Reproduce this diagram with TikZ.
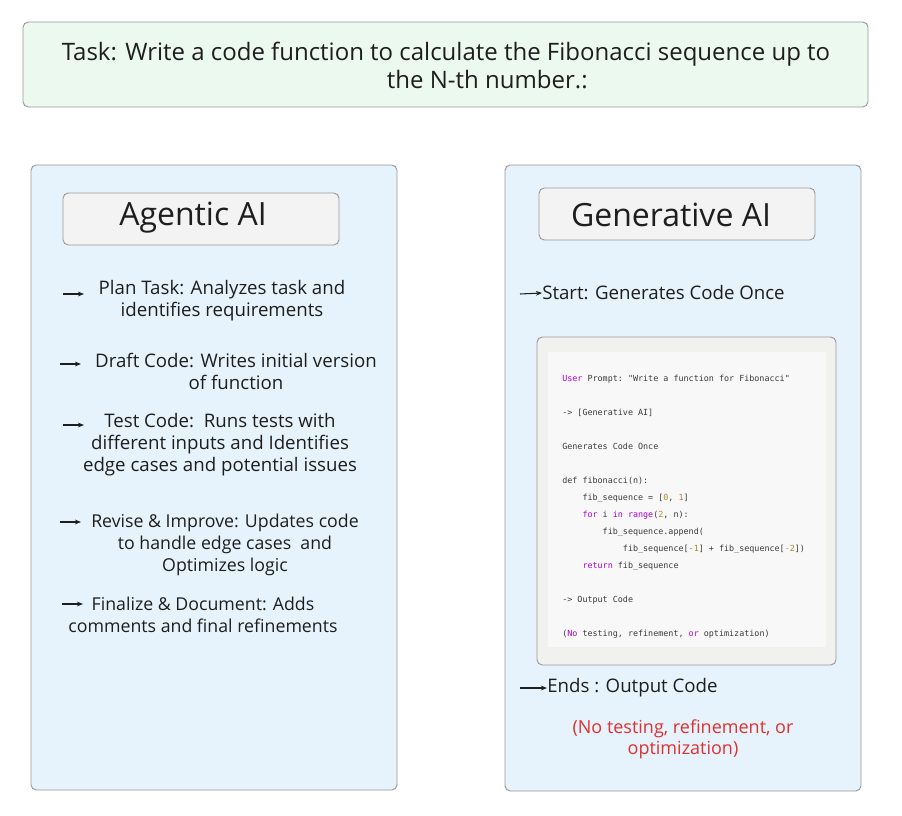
\documentclass[tikz,border=0pt]{standalone}
\usepackage{fontspec}
\setmainfont{Open Sans}
\setmonofont{DejaVu Sans Mono}
\usetikzlibrary{arrows.meta}
\definecolor{taskfill}{HTML}{EBF9EE}
\definecolor{panelfill}{HTML}{E6F3FC}
\definecolor{headfill}{HTML}{F3F3F3}
\definecolor{codeouter}{HTML}{F1F1EF}
\definecolor{codeinner}{HTML}{F8F8F8}
\definecolor{edge}{HTML}{9A9A9A}
\definecolor{ink}{HTML}{1E1E1E}
\definecolor{inkred}{HTML}{E03131}
\definecolor{kwpurple}{HTML}{AF00DB}
\definecolor{numorange}{HTML}{B5852A}
\definecolor{codegray}{HTML}{3B3B3B}
\newcommand{\kw}[1]{\textcolor{kwpurple}{#1}}
\newcommand{\nm}[1]{\textcolor{numorange}{#1}}
\newcommand{\ind}{\phantom{xxxx}}
\tikzset{
  box/.style={draw=edge, line width=0.7pt, rounded corners=4pt},
  item/.style={align=center, text=ink, font=\fontsize{14}{16.5}\selectfont, inner sep=0pt},
  smallitem/.style={item, font=\fontsize{13.3}{16.5}\selectfont},
  head/.style={text=ink, font=\fontsize{24}{26}\selectfont, inner sep=0pt},
  bul/.style={-{Stealth[length=4.5pt,width=3.5pt]}, line width=0.8pt, ink},
}
\begin{document}
\begin{tikzpicture}[x=0.75pt,y=-0.75pt]
\useasboundingbox[fill=white] (0,0) rectangle (902,816);
% task
\draw[box, fill=taskfill] (23,22) rectangle (868,107);
\node[item, font=\fontsize{18}{21}\selectfont] (task) at (446,65)
  {Task: Write a code function to calculate the Fibonacci sequence up to\\\hspace*{62pt}the N-th number.:};
% agentic side
\draw[box, fill=panelfill] (31,165) rectangle (397,790);
\draw[box, fill=headfill] (63,193) rectangle (339,245);
\node[head] (agentic) at (193,218) {Agentic AI};
\node[item] (plan) at (222,301) {Plan Task: Analyzes task and\\identifies requirements};
\node[item] (draft) at (236,371) {Draft Code: Writes initial version\\of function};
\node[item] (test) at (220,445) {Test Code:\ \ Runs tests with\\different inputs and Identifies\\edge cases and potential issues};
\node[smallitem] (revise) at (225,545) {Revise \& Improve: Updates code\\to handle edge cases\ \ and\\Optimizes logic};
\node[smallitem] (final) at (203,615) {Finalize \& Document: Adds\\comments and final refinements};
\coordinate (b1) at (63,294);
\coordinate (b2) at (60,364);
\coordinate (b3) at (63,425);
\coordinate (b4) at (60,522);
\coordinate (b5) at (62,604);
\foreach \b in {b1,b2,b3,b4,b5}
  \draw[bul] (\b) -- ++(21,0);
% generative side
\draw[box, fill=panelfill] (505,165) rectangle (861,791);
\draw[box, fill=headfill] (539,188) rectangle (815,240);
\node[head] (generative) at (671,215) {Generative AI};
\node[item, anchor=west] (start) at (542,293) {Start: Generates Code Once};
\coordinate (s0) at (520,294);
\draw[bul] (s0) -- (start.west);
\draw[box, fill=codeouter] (537,337) rectangle (836,665);
\fill[codeinner] (548,352) rectangle (826,647);
\node[anchor=north west, inner sep=0pt, align=left, text=codegray,
      font=\ttfamily\fontsize{6.3}{12.75}\selectfont] (code) at (562,375)
  {\kw{User} Prompt: "Write a function for Fibonacci"\\
   \mbox{}\\
   -> [Generative AI]\\
   \mbox{}\\
   Generates Code Once\\
   \mbox{}\\
   def fibonacci(n):\\
   \ind fib\_sequence = [\nm{0}, \nm{1}]\\
   \ind \kw{for} i \kw{in} \kw{range}(\nm{2}, n):\\
   \ind\ind fib\_sequence.append(\\
   \ind\ind\ind fib\_sequence[\nm{-1}] + fib\_sequence[\nm{-2}])\\
   \ind \kw{return} fib\_sequence\\
   \mbox{}\\
   -> Output Code\\
   \mbox{}\\
   (\kw{No} testing, refinement, \kw{or} optimization)};
\node[item, anchor=west] (ends) at (547,688) {Ends : Output Code};
\coordinate (e0) at (520,688);
\draw[bul] (e0) -- (ends.west);
\node[item, text=inkred, font=\fontsize{13.5}{15.75}\selectfont] (nonote) at (683,739)
  {(No testing, refinement, or\\optimization)};
\end{tikzpicture}
\end{document}
